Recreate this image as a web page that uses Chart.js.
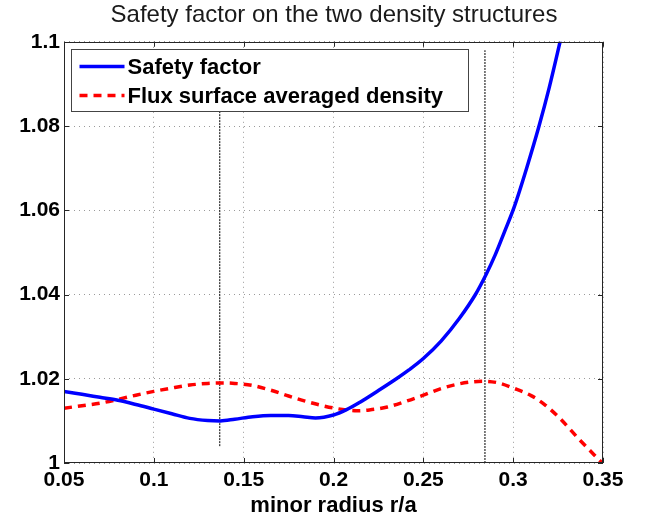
<!DOCTYPE html>
<html>
<head>
<meta charset="utf-8">
<script src="https://cdn.jsdelivr.net/npm/chart.js@4/dist/chart.umd.min.js"></script>
<style>
  html, body { margin: 0; padding: 0; background: #fff; }
  #wrap { width: 653px; height: 520px; }
</style>
</head>
<body>
<div id="wrap"><canvas id="q-chart" width="653" height="520"></canvas></div>
<script>
// Safety factor curve (x = minor radius r/a)
const qRadius = [0.05, 0.06, 0.07, 0.08, 0.09, 0.1, 0.11, 0.12, 0.13, 0.137, 0.145, 0.155, 0.165, 0.175, 0.183, 0.19,
                 0.2, 0.207, 0.215, 0.225, 0.235, 0.242, 0.25, 0.26, 0.27, 0.279, 0.285, 0.29, 0.295, 0.3006, 0.3075, 0.3144, 0.32, 0.326, 0.328];
const qValues = [1.0170, 1.0163, 1.0156, 1.0149, 1.0139, 1.0128, 1.0117, 1.0106, 1.0101, 1.0100, 1.0104, 1.0110, 1.0113, 1.0113, 1.0110, 1.0107,
                 1.0114, 1.0126, 1.0145, 1.0172, 1.0200, 1.0221, 1.0248, 1.0290, 1.0343, 1.0400, 1.0448, 1.0494, 1.0547, 1.0608, 1.0700, 1.0800, 1.0890, 1.0998, 1.1035];

// Flux surface averaged density (same axes)
const nRadius = [0.05, 0.06, 0.07, 0.08, 0.09, 0.1, 0.11, 0.12, 0.13, 0.137, 0.145, 0.155, 0.165, 0.175, 0.185, 0.195,
                 0.205, 0.213, 0.22, 0.23, 0.24, 0.25, 0.26, 0.27, 0.278, 0.284, 0.292, 0.3, 0.31, 0.318, 0.326, 0.337, 0.347, 0.35];
const nValues = [1.0130, 1.0136, 1.0142, 1.0151, 1.0161, 1.0170, 1.0178, 1.0185, 1.0189, 1.0190, 1.0189, 1.0184, 1.0173, 1.0159, 1.0146, 1.0135,
                 1.0127, 1.0124, 1.0126, 1.0133, 1.0146, 1.0161, 1.0177, 1.0188, 1.0193, 1.0194, 1.0190, 1.0178, 1.0160, 1.0137, 1.0106, 1.0055, 1.0011, 0.9998];

// Two thin vertical marker lines
const markerX      = [0.1367, 0.2843];
const markerBottom = [1.004, 1.0];
const markerTop    = [1.098, 1.098];

// Axis ticks
const xTicks = [0.05, 0.1, 0.15, 0.2, 0.25, 0.3, 0.35];
const xTickLabels = ['0.05', '0.1', '0.15', '0.2', '0.25', '0.3', '0.35'];
const yTicks = [1, 1.02, 1.04, 1.06, 1.08, 1.1];
const yTickLabels = ['1', '1.02', '1.04', '1.06', '1.08', '1.1'];

const FONT = "'Liberation Sans', Arial, Helvetica, sans-serif";

function toPoints(xs, ys) {
    return xs.map((x, i) => ({x: x, y: ys[i]}));
}

const datasets = [
    {
        label: 'Safety factor',
        data: toPoints(qRadius, qValues),
        borderColor: '#0000ff',
        borderWidth: 3.5,
        pointRadius: 0,
        cubicInterpolationMode: 'monotone',
        fill: false
    },
    {
        label: 'Flux surface averaged density',
        data: toPoints(nRadius, nValues),
        borderColor: '#ff0000',
        borderWidth: 3.5,
        borderDash: [8, 6],
        pointRadius: 0,
        cubicInterpolationMode: 'monotone',
        fill: false
    }
];
// marker lines, one small dataset each
markerX.forEach((mx, i) => {
    datasets.push({
        label: 'marker' + i,
        data: [{x: mx, y: markerBottom[i]}, {x: mx, y: markerTop[i]}],
        borderColor: '#000',
        borderWidth: 1,
        borderDash: [2, 1],
        pointRadius: 0,
        fill: false
    });
});

// MATLAB style box, inward ticks and boxed legend
const matlabBox = {
    id: 'matlabBox',
    afterDatasetsDraw(chart) {
        const {ctx, chartArea: a, scales} = chart;
        const x = scales.x, y = scales.y;
        ctx.save();
        ctx.strokeStyle = '#262626';
        ctx.lineWidth = 1;
        ctx.beginPath();
        xTicks.forEach(v => {
            const px = Math.round(x.getPixelForValue(v)) + 0.5;
            ctx.moveTo(px, a.bottom); ctx.lineTo(px, a.bottom - 5);
            ctx.moveTo(px, a.top); ctx.lineTo(px, a.top + 5);
        });
        yTicks.forEach(v => {
            const py = Math.round(y.getPixelForValue(v)) + 0.5;
            ctx.moveTo(a.left, py); ctx.lineTo(a.left + 5, py);
            ctx.moveTo(a.right, py); ctx.lineTo(a.right - 5, py);
        });
        ctx.stroke();
        ctx.strokeRect(Math.round(a.left) + 0.5, Math.round(a.top) + 0.5,
                       Math.round(a.width) - 1, Math.round(a.height) - 1);

        // legend box
        const lx = 71.5, ly = 49.5, lw = 397, lh = 62;
        ctx.fillStyle = '#fff';
        ctx.fillRect(lx, ly, lw, lh);
        ctx.strokeStyle = '#444';
        ctx.strokeRect(lx, ly, lw, lh);
        ctx.font = 'bold 22px ' + FONT;
        ctx.textBaseline = 'middle';
        ctx.textAlign = 'left';
        [0, 1].forEach(i => {
            const ds = chart.data.datasets[i];
            const rowY = ly + 17 + i * 29;
            ctx.beginPath();
            ctx.strokeStyle = ds.borderColor;
            ctx.lineWidth = 3.5;
            ctx.setLineDash(ds.borderDash || []);
            ctx.moveTo(lx + 8, rowY);
            ctx.lineTo(lx + 53, rowY);
            ctx.stroke();
            ctx.setLineDash([]);
            ctx.fillStyle = '#000';
            ctx.fillText(ds.label, lx + 56, rowY + 1);
        });
        ctx.restore();
    }
};

const chart = new Chart(document.getElementById('q-chart'), {
    type: 'line',
    data: {datasets: datasets},
    options: {
        responsive: false,
        animation: false,
        layout: {padding: {left: 15, right: 0, top: 0, bottom: 0}},
        scales: {
            x: {
                type: 'linear',
                min: 0.05,
                max: 0.35,
                afterBuildTicks: (scale) => { scale.ticks = xTicks.map(v => ({value: v})); },
                afterFit: (scale) => { scale.height = 57; },
                ticks: {
                    callback: (value, idx) => xTickLabels[idx],
                    color: '#000',
                    font: {family: FONT, size: 21, weight: 'bold'},
                    padding: 5,
                    maxRotation: 0
                },
                grid: {color: '#9a9a9a', drawTicks: false},
                border: {display: false, dash: [1, 4]},
                title: {
                    display: true,
                    text: 'minor radius r/a',
                    color: '#000',
                    font: {family: FONT, size: 22, weight: 'bold'},
                    padding: {top: 0, bottom: 1}
                }
            },
            y: {
                min: 1,
                max: 1.1,
                afterBuildTicks: (scale) => { scale.ticks = yTicks.map(v => ({value: v})); },
                afterFit: (scale) => { scale.width = 49; },
                ticks: {
                    callback: (value, idx) => yTickLabels[idx],
                    color: '#000',
                    font: {family: FONT, size: 21, weight: 'bold'},
                    padding: 4
                },
                grid: {color: '#9a9a9a', drawTicks: false},
                border: {display: false, dash: [1, 4]}
            },
            y2: {   // empty right axis, only keeps the right margin
                position: 'right',
                min: 1,
                max: 1.1,
                afterFit: (scale) => { scale.width = 50; },
                ticks: {display: false},
                grid: {display: false},
                border: {display: false}
            }
        },
        plugins: {
            legend: {display: false},
            tooltip: {enabled: false},
            title: {
                display: true,
                text: 'Safety factor on the two density structures',
                color: '#1a1a1a',
                font: {family: FONT, size: 24, weight: 'normal'},
                padding: {top: 1, bottom: 12}
            }
        }
    },
    plugins: [matlabBox]
});
</script>
</body>
</html>
